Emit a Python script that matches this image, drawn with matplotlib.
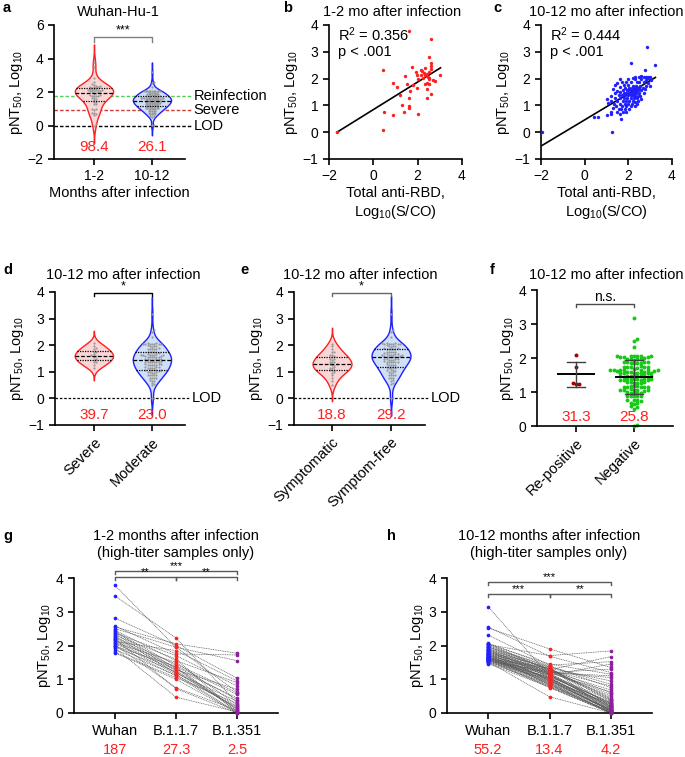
import numpy as np
import matplotlib
matplotlib.use("Agg")
import matplotlib.pyplot as plt

plt.rcParams.update({
    "font.family": "Liberation Sans",
    "mathtext.fontset": "custom",
    "mathtext.rm": "Liberation Sans",
    "mathtext.it": "Liberation Sans:italic",
    "mathtext.bf": "Liberation Sans:bold",
    "axes.linewidth": 1.2,
    "xtick.major.width": 1.2, "ytick.major.width": 1.2,
    "xtick.major.size": 4, "ytick.major.size": 4,
    "xtick.labelsize": 10, "ytick.labelsize": 10,
})

# ---- 1-2 months cohort (panel a red violin, panel b) ----
rbd_1_2 = [1.60, 2.59, 2.52, 0.45, 1.75, 2.62, 2.59, 2.32, 2.13, 1.92,
           2.49, 2.40, 1.98, 2.17, 1.42, 3.03, 2.25, 2.52, 2.02, 2.77,
           2.40, 2.32, 2.52, 0.87, 1.50, 1.05, 1.80, 1.98, 1.65, 2.40,
           1.20, 1.60, 2.62, 2.40, 1.30, 1.59, 1.60, 1.38, 0.49, 0.90,
           2.02, 0.42, -1.65, 2.30, 2.45, 2.20, 2.50, 2.60, 2.35, 2.70]
pnt_1_2 = [3.78, 3.48, 2.81, 2.31, 2.44, 2.57, 2.48, 2.38, 2.32, 2.26,
           2.26, 2.17, 2.13, 2.13, 2.10, 2.13, 2.03, 2.03, 1.99, 1.91,
           1.82, 1.78, 1.78, 1.82, 1.79, 1.67, 1.76, 1.64, 1.55, 1.61,
           1.39, 1.26, 1.41, 1.28, 1.01, 0.97, 0.91, 0.76, 0.76, 0.64,
           0.67, 0.09, 0.00, 2.20, 2.05, 2.28, 2.00, 2.35, 2.12, 1.95]

# ---- 10-12 months cohort (panels a blue, c, d, e, f) ----
pnt_10_12 = [3.17, 2.57, 2.51, 2.31,
             2.08, 2.07, 2.07, 2.06, 2.06, 2.05, 2.05, 2.04, 2.04, 2.03,
             1.99, 1.98, 1.97, 1.97, 1.96, 1.95,
             1.88, 1.88, 1.87, 1.87, 1.86, 1.86, 1.85, 1.85,
             1.76, 1.75, 1.75, 1.74, 1.74, 1.73, 1.73, 1.72,
             1.67, 1.66, 1.66, 1.65, 1.65, 1.65, 1.64, 1.64, 1.63, 1.63,
             1.59, 1.58, 1.58, 1.57, 1.57, 1.57, 1.56, 1.56, 1.55, 1.55,
             1.49, 1.48, 1.48, 1.47, 1.47, 1.47, 1.46, 1.46, 1.45, 1.45,
             1.39, 1.38, 1.38, 1.37, 1.37, 1.37, 1.36, 1.36, 1.35, 1.35,
             1.29, 1.28, 1.28, 1.27, 1.27, 1.26, 1.26, 1.25, 1.25,
             1.18, 1.17, 1.17, 1.16, 1.16, 1.15, 1.15, 1.14,
             1.08, 1.07, 1.07, 1.06, 1.05, 1.05, 1.04,
             0.99, 0.98, 0.98, 0.97, 0.97,
             0.89, 0.88, 0.88, 0.87, 0.87,
             0.77, 0.76, 0.76, 0.75,
             0.68, 0.67, 0.66,
             0.58, 0.56, 0.49,
             0.02, 0.01]
rbd_10_12 = [2.87, 2.14, 3.24, 2.75,
             2.6, 2.7, 2.8, 2.9, 3.0, 2.3, 2.5, 2.85, 2.95, 2.2,
             1.6, 2.0, 2.3, 2.6, 2.8, 3.05,
             1.7, 1.9, 2.1, 2.4, 2.5, 2.7, 2.9, 1.5,
             1.4, 1.8, 2.0, 2.2, 2.35, 2.55, 2.8, 3.0,
             1.6, 1.85, 2.05, 2.15, 2.25, 2.4, 2.5, 2.65, 2.75, 1.3,
             1.75, 1.95, 2.1, 2.2, 2.3, 2.45, 2.6, 2.0, 2.35, 1.5,
             1.6, 1.8, 1.9, 2.05, 2.15, 2.25, 2.35, 2.5, 2.7, 1.4,
             1.55, 1.7, 1.85, 2.0, 2.1, 2.2, 2.3, 2.45, 2.55, 1.2,
             1.4, 1.6, 1.8, 1.95, 2.1, 2.25, 2.4, 2.6, 1.0,
             1.2, 1.5, 1.75, 1.9, 2.05, 2.2, 2.45, 2.3,
             1.05, 1.35, 1.6, 1.85, 2.0, 2.15, 2.4,
             1.45, 1.7, 1.9, 2.1, 2.3,
             1.3, 1.65, 1.85, 2.05, 1.55,
             1.2, 1.5, 1.75, 1.9,
             1.2, 1.6, 1.0,
             0.42, 0.62, 1.65,
             -1.95, 1.25]
# S = severe, M = moderate
severity_10_12 = ("MMMM" "MMSMMMMMMM" "MMMSMM" "MSMMMSMM" "MMSMMMSM"
                  "MSMMMMSMMM" "MMSMMMMSMM" "MSMMMMMSMM" "MMMSMMMMSM"
                  "MMMMSMMMM" "MMMMMSMM" "MMMMMMM" "MMMMM" "MMMMM" "MMMM"
                  "MMM" "MMM" "MM")
# Y = symptomatic, N = symptom-free
symptoms_10_12 = ("NNNN" "NNNNYNNNNN" "NNYNNN" "NNNYNNNN" "NYNNNYNN"
                  "NNNYNNNNYN" "YNNNNNYNNN" "NNYNNYNNNY" "NYNNNYNNYN"
                  "YNYNYNNYN" "NYNNYNYN" "YNNYNYN" "NYNYN" "NNYNN" "NYNN"
                  "NNY" "NNY" "NN")
# R = re-positive, - = negative
repositive_10_12 = ("----" "R---------" "------" "--------" "---R----"
                    "----------" "----------" "----------" "----------"
                    "-----R-RR" "--------" "-------" "-----" "-----" "----"
                    "---" "---" "--")

gm_a = ["98.4", "26.1"]
gm_d = ["39.7", "23.0"]
gm_e = ["18.8", "29.2"]
gm_f = ["31.3", "25.8"]

# ---- paired variant neutralisation (g, h) ----
variants = ["Wuhan", "B.1.1.7", "B.1.351"]
wuhan_g = [3.78, 3.47, 2.81, 2.58, 2.55, 2.50, 2.45, 2.42, 2.40, 2.37,
           2.35, 2.30, 2.28, 2.25, 2.22, 2.20, 2.18, 2.15, 2.12, 2.10,
           2.08, 2.05, 2.02, 2.00, 1.98, 1.95, 1.92, 1.88, 1.80, 1.78]
b117_g = [1.95, 2.22, 2.00, 1.75, 2.05, 1.95, 1.55, 1.40, 1.32, 1.70,
          1.25, 1.60, 1.18, 1.45, 1.35, 0.72, 1.30, 1.20, 1.85, 1.15,
          1.50, 1.28, 0.75, 1.10, 1.38, 1.22, 0.47, 1.12, 1.05, 1.00]
b1351_g = [0.62, 0.30, 1.03, 1.72, 1.77, 1.55, 0.90, 0.55, 0.05, 0.80,
           0.20, 0.00, 0.35, 0.60, 0.10, 0.00, 0.45, 0.15, 0.95, 0.02,
           0.25, 0.70, 0.08, 0.00, 0.40, 0.12, 0.03, 0.18, 0.28, 0.00]
gm_g = ["187", "27.3", "2.5"]

wuhan_h = [3.15, 2.55, 2.52, 2.31, 2.07, 2.05, 2.03, 2.01, 1.99, 1.97,
           1.95, 1.93, 1.91, 1.90, 1.88, 1.86, 1.85, 1.83, 1.82, 1.80,
           1.79, 1.78, 1.76, 1.75, 1.74, 1.72, 1.71, 1.70, 1.69, 1.68,
           1.67, 1.66, 1.65, 1.64, 1.63, 1.62, 1.62, 1.61, 1.60, 1.60,
           1.59, 1.58, 1.58, 1.57, 1.56, 1.55, 1.55, 1.54, 1.53, 1.52,
           1.50, 1.48, 1.46, 2.04, 1.96, 1.87, 1.77, 1.73, 1.66, 1.61]
b117_h = [1.10, 1.68, 1.90, 1.42, 1.40, 1.25, 1.70, 1.35, 1.30, 1.20,
          1.38, 1.15, 1.28, 1.05, 1.32, 1.22, 0.95, 1.18, 1.12, 1.36,
          1.08, 1.25, 1.00, 1.30, 1.14, 0.90, 1.20, 1.02, 1.27, 0.85,
          1.10, 0.98, 1.24, 0.88, 1.16, 1.05, 0.82, 1.33, 0.93, 1.12,
          0.78, 1.02, 1.19, 0.96, 0.75, 1.07, 0.90, 1.21, 0.80, 0.48,
          1.00, 0.86, 0.77, 1.45, 1.29, 1.13, 0.99, 0.84, 0.94, 1.04]
b1351_h = [0.30, 1.20, 1.35, 1.52, 0.75, 0.40, 1.84, 0.20, 0.60, 1.10,
           0.85, 0.15, 1.67, 0.05, 0.35, 0.50, 0.10, 0.25, 1.45, 0.00,
           0.30, 0.68, 0.08, 0.42, 0.18, 0.02, 1.30, 0.12, 0.80, 0.00,
           0.22, 0.05, 0.55, 0.00, 0.28, 0.15, 0.03, 0.95, 0.10, 0.38,
           0.00, 0.20, 0.62, 0.07, 0.00, 0.33, 0.12, 1.05, 0.04, 0.00,
           0.25, 0.09, 0.00, 1.15, 0.45, 0.18, 0.06, 0.02, 0.27, 0.14]
gm_h = ["55.2", "13.4", "4.2"]

RED, BLUE = "#ff1f1f", "#1f1fff"
PINK, LIGHTBLUE = "#fbd6d6", "#cfe0f8"
W, H = 685, 757

fig = plt.figure(figsize=(W / 100, H / 100), dpi=100)


def box(l, t, r, b):
    return [l / W, 1 - b / H, (r - l) / W, (b - t) / H]


def style(ax):
    for s in ("top", "right"):
        ax.spines[s].set_visible(False)


def swarm(ax, vals, d):
    # simple deterministic beeswarm, offsets returned in data units
    pos = ax.get_position()
    x0, x1 = ax.get_xlim()
    y0, y1 = ax.get_ylim()
    xs = pos.width * W / (x1 - x0)
    ys = pos.height * H / (y1 - y0)
    vals = np.asarray(vals, float)
    offs = np.zeros(len(vals))
    placed = []
    cands = [0.0] + [s * k * d for k in range(1, 60) for s in (1, -1)]
    for i in np.argsort(vals):
        y = vals[i] * ys
        for c in cands:
            if all((c - px) ** 2 + (y - py) ** 2 >= d * d * 0.98 for px, py in placed):
                break
        placed.append((c, y))
        offs[i] = c
    return offs / xs


def violin(ax, vals, pos, edge, face, d=2.4, half=0.33):
    v = np.asarray(vals, float)
    h = 1.06 * v.std(ddof=1) * len(v) ** -0.2
    grid = np.linspace(v.min() - 3 * h, v.max() + 3 * h, 400)
    dens = np.exp(-0.5 * ((grid[:, None] - v[None, :]) / h) ** 2).sum(1)
    w = dens / dens.max() * half
    ax.fill_betweenx(grid, pos - w, pos + w, facecolor=face, edgecolor=edge, lw=1, zorder=2)
    ax.scatter(pos + swarm(ax, v, d), v, s=2.5, color="0.6", lw=0, zorder=3)
    q1, med, q3 = np.percentile(v, [25, 50, 75])
    for q, ls in ((q1, (0, (1, 1))), (med, (0, (3, 1.5))), (q3, (0, (1, 1)))):
        wq = np.interp(q, grid, w)
        ax.plot([pos - wq, pos + wq], [q, q], color="k", ls=ls, lw=0.9, zorder=4)


def bracket(ax, x0, x1, y, dy, text, color="k", fs=9):
    ax.plot([x0, x0, x1, x1], [y - dy, y, y, y - dy], color=color, lw=1, clip_on=False)
    ax.text((x0 + x1) / 2, y, text, ha="center", va="bottom", fontsize=fs, color="k")


def ptitle(x, y, s):
    fig.text(x / W, 1 - y / H, s, ha="center", va="center", fontsize=10.5)


def letter(x, y, s):
    fig.text(x / W, 1 - y / H, s, ha="left", va="center", fontsize=10.5, fontweight="bold")


YLAB = "pNT$_{50}$, Log$_{10}$"

# ---------------- a ----------------
ax = fig.add_axes(box(54, 25, 185, 159))
style(ax)
ax.set_xlim(-0.69, 1.57)
ax.set_ylim(-2, 6)
ax.set_yticks([-2, 0, 2, 4, 6])
ax.set_xticks([0, 1])
ax.set_xticklabels(["1-2", "10-12"])
for yv, col, lab in ((1.78, "#55cc55", "Reinfection"), (0.9, "#cc3a3a", "Severe"), (0, "k", "LOD")):
    ax.plot([-0.69, 1.68], [yv, yv], color=col, lw=1, ls=(0, (2.5, 1.5)), clip_on=False, zorder=1)
    ax.text(1.72, yv, lab, ha="left", va="center", fontsize=10.5)
violin(ax, pnt_1_2, 0, RED, PINK, d=1.9)
violin(ax, pnt_10_12, 1, BLUE, LIGHTBLUE, d=1.6)
bracket(ax, 0, 1, 5.3, 0.3, "***", color="0.5", fs=9)
for i, s in enumerate(gm_a):
    ax.text(i, -1.3, s, color=RED, ha="center", va="center", fontsize=11)
ax.set_ylabel(YLAB, fontsize=10.5, labelpad=2)
ax.set_xlabel("Months after infection", fontsize=10.5, labelpad=2)
ptitle(118, 12, "Wuhan-Hu-1")
letter(3, 8, "a")

# ---------------- b / c ----------------
for rect, xs, ys, col, title, r2, lx, tx in (
        ((329, 25, 462, 159), rbd_1_2, pnt_1_2, RED, "1-2 mo after infection", "0.356", 283, 392),
        ((541, 25, 672, 159), rbd_10_12, pnt_10_12, BLUE, "10-12 mo after infection", "0.444", 493, 606)):
    ax = fig.add_axes(box(*rect))
    style(ax)
    ax.set_xlim(-2, 4)
    ax.set_ylim(-1, 4)
    ax.set_xticks([-2, 0, 2, 4])
    ax.set_yticks([-1, 0, 1, 2, 3, 4])
    ax.scatter(xs, ys, s=6, color=col, lw=0, zorder=3, clip_on=False)
    k, b0 = np.polyfit(xs, ys, 1)
    xl = np.array([min(xs), max(xs)])
    ax.plot(xl, k * xl + b0, color="k", lw=1.2, zorder=2)
    ax.text(0.07, 1.0, "R$^2$ = " + r2 + "\np < .001", transform=ax.transAxes,
            ha="left", va="top", fontsize=10.5, linespacing=1.15)
    ax.set_ylabel(YLAB, fontsize=10.5, labelpad=2)
    ax.set_xlabel("Total anti-RBD,\nLog$_{10}$(S/CO)", fontsize=10.5, labelpad=2)
    ptitle(tx, 12, title)
    letter(lx, 8, "b" if col == RED else "c")

# ---------------- d / e ----------------
pnt = np.asarray(pnt_10_12)
sev = np.array(list(severity_10_12))
sym = np.array(list(symptoms_10_12))
rep = np.array(list(repositive_10_12))

for rect, xlim, groups, names, gm, lodx, tx, lx, lab in (
        ((55, 292, 185, 425), (-0.67, 1.57), (pnt[sev == "S"], pnt[sev == "M"]),
         ["Severe", "Moderate"], gm_d, 1.69, 123, 3, "d"),
        ((294, 292, 425, 425), (-0.644, 1.576), (pnt[sym == "Y"], pnt[sym == "N"]),
         ["Symptomatic", "Symptom-free"], gm_e, 1.68, 360, 240, "e")):
    ax = fig.add_axes(box(*rect))
    style(ax)
    ax.set_xlim(*xlim)
    ax.set_ylim(-1, 4)
    ax.set_yticks([-1, 0, 1, 2, 3, 4])
    ax.set_xticks([0, 1])
    ax.set_xticklabels(names, rotation=45, ha="right", rotation_mode="anchor", fontsize=10.5)
    ax.plot([xlim[0], lodx - 0.04], [0, 0], color="k", lw=0.9, ls=(0, (2, 1.5)), clip_on=False, zorder=1)
    ax.text(lodx, 0, "LOD", ha="left", va="center", fontsize=10.5)
    violin(ax, groups[0], 0, RED, PINK, d=2.4)
    violin(ax, groups[1], 1, BLUE, LIGHTBLUE, d=2.2)
    bracket(ax, 0, 1, 3.97, 0.12, "*", color="k" if lab == "d" else "0.4", fs=9)
    for i, s in enumerate(gm):
        ax.text(i, -0.62, s, color=RED, ha="center", va="center", fontsize=11)
    ax.set_ylabel(YLAB, fontsize=10.5, labelpad=2)
    ptitle(tx, 275, "10-12 mo after infection")
    letter(lx, 270, lab)

# ---------------- f ----------------
ax = fig.add_axes(box(537, 290, 673, 426))
style(ax)
ax.set_xlim(-0.67, 1.67)
ax.set_ylim(0, 4)
ax.set_yticks([0, 1, 2, 3, 4])
ax.set_xticks([0, 1])
ax.set_xticklabels(["Re-positive", "Negative"], rotation=45, ha="right", rotation_mode="anchor", fontsize=10.5)
for i, (vals, col) in enumerate(((pnt[rep == "R"], "#a30000"), (pnt[rep == "-"], "#19c819"))):
    ax.scatter(i + swarm(ax, vals, 3.4), vals, s=8, color=col, lw=0, zorder=2, clip_on=False)
    m, sd = vals.mean(), vals.std(ddof=1)
    ax.plot([i - 0.31, i + 0.31], [m, m], color="k", lw=1.4, zorder=3)
    ax.plot([i, i], [m - sd, m + sd], color="0.25", lw=1, zorder=3)
    for e in (m - sd, m + sd):
        ax.plot([i - 0.16, i + 0.16], [e, e], color="0.25", lw=1, zorder=3)
bracket(ax, 0, 1, 3.59, 0.1, "n.s.", color="0.3", fs=10)
for i, s in enumerate(gm_f):
    ax.text(i, 0.27, s, color=RED, ha="center", va="center", fontsize=11)
ax.set_ylabel(YLAB, fontsize=10.5, labelpad=2)
ptitle(606, 275, "10-12 mo after infection")
letter(490, 270, "f")

# ---------------- g / h ----------------
for rect, w, b1, b2, gm, tx, lx, lab, top, low, stars in (
        ((74, 578, 278, 713), wuhan_g, b117_g, b1351_g, gm_g, 176, 3, "g", 4.21, 4.03, "**"),
        ((447, 578, 652, 713), wuhan_h, b117_h, b1351_h, gm_h, 549, 387, "h", 3.88, 3.53, "***")):
    ax = fig.add_axes(box(*rect))
    style(ax)
    ax.set_xlim(-0.67, 2.67)
    ax.set_ylim(0, 4)
    ax.set_yticks([0, 1, 2, 3, 4])
    ax.set_xticks([0, 1, 2])
    ax.set_xticklabels(variants, fontsize=10.5)
    ax.tick_params(axis="x", pad=4)
    for row in zip(w, b1, b2):
        ax.plot([0, 1, 2], row, color="0.35", lw=0.5, ls=(0, (1.5, 1)), zorder=1)
    for i, (vals, col) in enumerate(((w, "#2020ff"), (b1, "#ff2020"), (b2, "#8e1f9e"))):
        ax.scatter([i] * len(vals), vals, s=7, color=col, lw=0, zorder=3, clip_on=False)
    bracket(ax, 0, 2, top, 0.08, "***", color="0.35", fs=8)
    bracket(ax, 0, 1, low, 0.08, stars, color="0.35", fs=8)
    bracket(ax, 1, 2, low, 0.08, "**", color="0.35", fs=8)
    for i, s in enumerate(gm):
        ax.text(i, -0.275, s, color=RED, ha="center", va="center", fontsize=10.5,
                transform=ax.get_xaxis_transform())
    ax.set_ylabel(YLAB, fontsize=10.5, labelpad=2)
    fig.text(tx / W, 1 - 536 / H, "1-2 months after infection" if lab == "g" else "10-12 months after infection",
             ha="center", va="center", fontsize=10.5)
    fig.text(tx / W, 1 - 553 / H, "(high-titer samples only)", ha="center", va="center", fontsize=10.5)
    letter(lx, 536, lab)

fig.savefig("out.png", dpi=100)
